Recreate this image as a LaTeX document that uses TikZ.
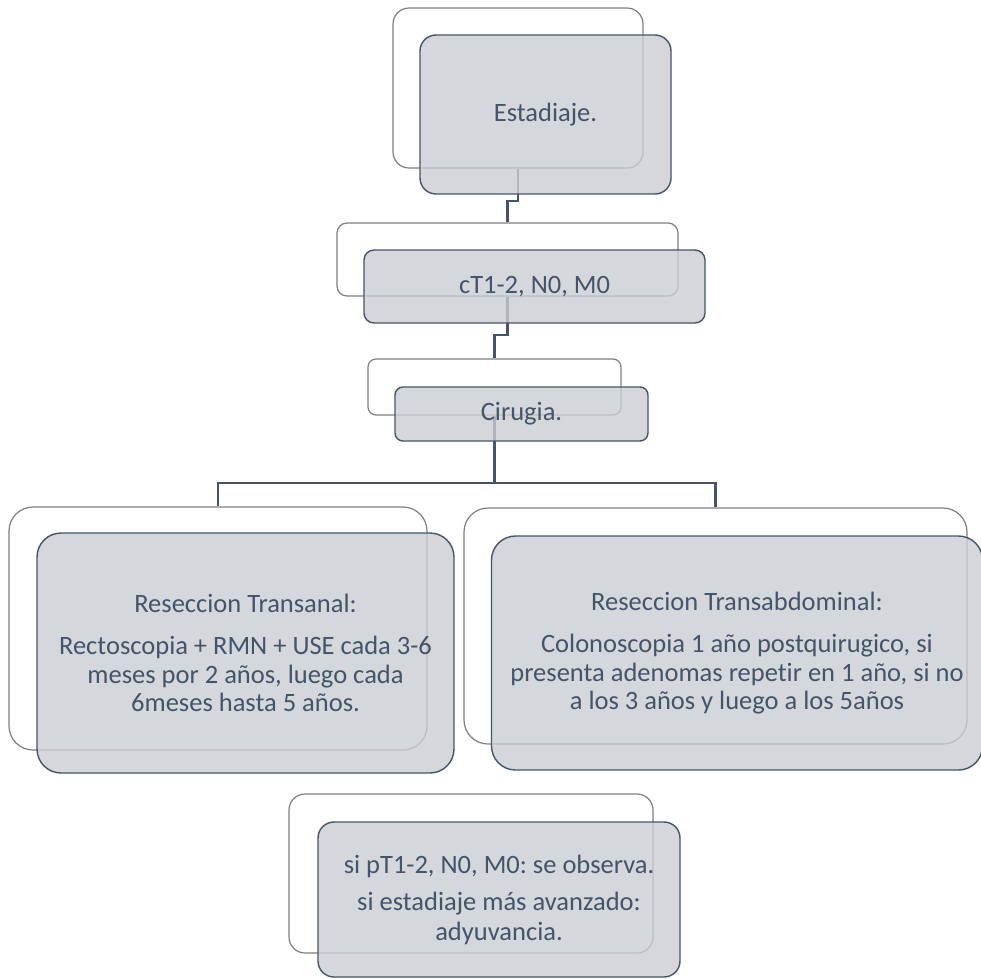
\documentclass[tikz,border=0pt]{standalone}
\usepackage{fontspec}
\setmainfont{Carlito}[Ligatures=NoCommon]
\usetikzlibrary{calc}
\frenchspacing
\definecolor{txtblue}{RGB}{68,84,106}
\definecolor{backline}{RGB}{127,127,127}
\definecolor{frontfill}{RGB}{202,205,210}

\begin{document}
\begin{tikzpicture}[x=1pt,y=-1pt,
  back/.style={draw=backline,line width=1.2pt,fill=white,inner sep=0pt,rounded corners=#1},
  front/.style={draw=txtblue,line width=1.4pt,fill=frontfill,fill opacity=.8,text opacity=1,
    text=txtblue,inner sep=0pt,align=center,rounded corners=#1,font=\fontsize{26.5}{28.5}\selectfont},
  conn/.style={draw=txtblue,line width=2.4pt}]
  \useasboundingbox (0,0) rectangle (981,978);
  % cajas de fondo
  \node[back=16pt,minimum width=250pt,minimum height=160pt] (estb) at (518,88) {};
  \node[back=10pt,minimum width=341pt,minimum height=73pt] (ctb) at (507.5,259.5) {};
  \node[back=8pt,minimum width=253pt,minimum height=56pt] (cirb) at (494.5,387) {};
  \node[back=24pt,minimum width=418pt,minimum height=243pt] (tanb) at (218,628.5) {};
  \node[back=24pt,minimum width=503pt,minimum height=236pt] (abdb) at (715.5,626) {};
  \node[back=16pt,minimum width=364pt,minimum height=159pt] (obsb) at (471,873.5) {};
  % conectores
  \draw[conn] (estb.south) |- ($(estb.south)!.6!(ctb.north)$) -| (ctb.north);
  \draw[conn] (ctb.south) |- ($(ctb.south)!.62!(cirb.north)$) -| (cirb.north);
  \draw[conn] (cirb.south) |- ($(cirb.south)!.74!(tanb.north)$) -| (tanb.north);
  \draw[conn] (cirb.south) |- ($(cirb.south)!.74!(tanb.north)$) -| (abdb.north);
  % cajas de texto
  \node[front=16pt,minimum width=251pt,minimum height=159pt] (est) at (545.5,114.5) {Estadiaje.};
  \node[front=10pt,minimum width=341pt,minimum height=73pt] (ct) at (534.5,286.5) {cT1-2, N0, M0};
  \node[front=8pt,minimum width=253pt,minimum height=54pt] (cir) at (521.5,414) {Cirugia.};
  \node[front=24pt,minimum width=417pt,minimum height=240pt] (tan) at (245.5,653)
    {Reseccion Transanal:\\[14pt] Rectoscopia + RMN + USE cada 3-6\\ meses por 2 años, luego cada\\ 6meses hasta 5 años.};
  \node[front=24pt,minimum width=491pt,minimum height=234pt] (abd) at (737,653)
    {Reseccion Transabdominal:\\[14pt] Colonoscopia 1 año postquirugico, si\\ presenta adenomas repetir en 1 año, si no\\ a los 3 años y luego a los 5años};
  \node[front=16pt,minimum width=362pt,minimum height=155pt] (obs) at (499,899.5)
    {si pT1-2, N0, M0: se observa.\\[9pt] si estadiaje más avanzado:\\[1pt] adyuvancia.};
\end{tikzpicture}
\end{document}
